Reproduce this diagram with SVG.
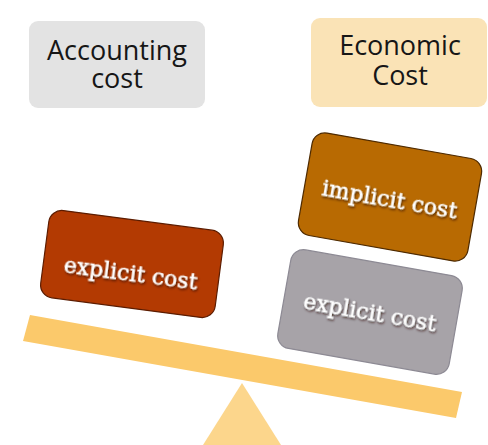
<svg xmlns="http://www.w3.org/2000/svg" width="488" height="445" viewBox="0 0 488 445">
  <defs>
    <filter id="txtShadow" x="-10%" y="-30%" width="120%" height="160%">
      <feDropShadow dx="1" dy="1.5" stdDeviation="0.8" flood-color="#2a1000" flood-opacity="0.8"/>
    </filter>
  </defs>
  <style>
    .label { font-family: "Open Sans", "DejaVu Sans", sans-serif; font-size: 27px; font-weight: 500; fill: #161616; text-anchor: middle; }
    .block-text { font-family: "DejaVu Serif", "Liberation Serif", serif; font-size: 22px; fill: #ffffff; stroke: #ffffff; stroke-width: 0.4; text-anchor: middle; filter: url(#txtShadow); }
    .block { stroke-width: 1.2; }
  </style>
  <rect width="488" height="445" fill="#ffffff"/>

  <!-- heading labels -->
  <g id="accounting-cost">
    <rect x="29" y="21" width="176" height="87" rx="9" fill="#e3e3e3"/>
    <text class="label" x="117" y="60">Accounting</text>
    <text class="label" x="117" y="88">cost</text>
  </g>
  <g id="economic-cost">
    <rect x="311" y="18" width="176" height="89" rx="9" fill="#fae3b6"/>
    <text class="label" x="400" y="55">Economic</text>
    <text class="label" x="400" y="85">Cost</text>
  </g>

  <!-- balance -->
  <g id="fulcrum">
    <polygon points="242,383 203,445 281,445" fill="#fcd68c"/>
  </g>
  <g id="beam">
    <polygon points="30,315 462,392 456,418 23,341" fill="#fbc96b"/>
  </g>

  <!-- weights -->
  <g id="explicit-cost-left" transform="translate(132,264) rotate(7.5)">
    <rect class="block" x="-88" y="-44" width="176" height="88" rx="13" fill="#b33a02" stroke="#5c1c00"/>
    <text class="block-text" x="0" y="17">explicit cost</text>
  </g>
  <g id="implicit-cost" transform="translate(390,197) rotate(10)">
    <rect class="block" x="-86" y="-52" width="172" height="104" rx="13" fill="#b86a02" stroke="#4e2a00"/>
    <text class="block-text" x="0" y="10">implicit cost</text>
  </g>
  <g id="explicit-cost-right" transform="translate(370,312) rotate(10)">
    <rect class="block" x="-87" y="-50" width="174" height="100" rx="13" fill="#a7a3a8" stroke="#8d8a94"/>
    <text class="block-text" x="0" y="8">explicit cost</text>
  </g>
</svg>
